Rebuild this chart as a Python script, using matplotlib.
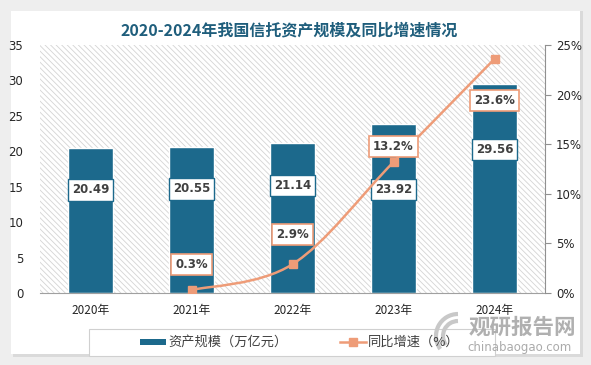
import matplotlib
matplotlib.use("Agg")
import matplotlib.pyplot as plt
from matplotlib.path import Path
from matplotlib.patches import PathPatch, Rectangle, Arc
import numpy as np

plt.rcParams['font.family'] = ['Noto Sans CJK SC', 'DejaVu Sans']
plt.rcParams['hatch.linewidth'] = 0.6
plt.rcParams['hatch.color'] = '#D4D4D4'

years = ['2020年', '2021年', '2022年', '2023年', '2024年']
assets = [20.49, 20.55, 21.14, 23.92, 29.56]
growth_years = ['2021年', '2022年', '2023年', '2024年']
growth = [0.3, 2.9, 13.2, 23.6]
left_ticks = [0, 5, 10, 15, 20, 25, 30, 35]
right_ticks = [0, 5, 10, 15, 20, 25]

BAR = '#1C698C'
LINE = '#EE9C78'
TXT = '#404040'
TICK = '#262626'

W, H = 591, 365
fig = plt.figure(figsize=(W / 100, H / 100), dpi=100)
fig.patch.set_facecolor('#EEEEEE')
# white panel with soft shadow
fig.patches.append(Rectangle((13 / W, 8 / H), 570 / W, 346 / H, transform=fig.transFigure,
                             facecolor='#DADADA', edgecolor='none', zorder=-2))
fig.patches.append(Rectangle((11 / W, 11 / H), 569 / W, 343 / H, transform=fig.transFigure,
                             facecolor='white', edgecolor='none', zorder=-1))

ax = fig.add_axes([40 / W, (H - 293) / H, 505 / W, 248 / H])
ax.set_facecolor('none')
x = np.arange(len(years))
ax.set_xlim(-0.5, len(years) - 0.5)
ax.set_ylim(0, 35)

# hatched background
ax.add_patch(Rectangle((0, 0), 1, 1, transform=ax.transAxes, facecolor='white',
                       edgecolor='#D4D4D4', hatch='\\\\\\\\\\\\', linewidth=0, zorder=0))

ax.bar(x, assets, width=0.44, color=BAR, edgecolor='white', linewidth=1.0, zorder=2)
ax.set_xticks(x)
ax.set_xticklabels(years, fontsize=8.5, color=TICK)
ax.set_yticks(left_ticks)
ax.set_yticklabels([str(v) for v in left_ticks], fontsize=8.5, color=TICK,
                   family=['DejaVu Sans'])
ax.tick_params(axis='y', length=0, pad=12)
ax.tick_params(axis='x', length=0, pad=8)
for s in ['top', 'right', 'left']:
    ax.spines[s].set_visible(False)
ax.spines['bottom'].set_color('#A0A0A0')

bar_label_frac = [0.71, 0.715, 0.72, 0.61, 0.685]
for xi, v, f in zip(x, assets, bar_label_frac):
    ax.text(xi, v * f, f'{v:.2f}', ha='center', va='center', fontsize=8.5, color=TXT,
            fontweight='bold', family=['DejaVu Sans'], zorder=5,
            bbox=dict(boxstyle='square,pad=0.35', fc='white', ec=BAR, lw=1))

ax2 = ax.twinx()
ax2.set_ylim(0, 25)
ax2.set_yticks(right_ticks)
ax2.set_yticklabels([f'{v}%' for v in right_ticks], fontsize=8.5, color=TICK,
                    family=['DejaVu Sans'])
ax2.tick_params(axis='y', length=4, color='#909090', pad=4)
for s in ['top', 'left', 'bottom']:
    ax2.spines[s].set_visible(False)
ax2.spines['right'].set_color('#909090')

gx = np.array([years.index(g) for g in growth_years], dtype=float)
gy = np.array(growth, dtype=float)
pts = np.column_stack([gx, gy])
# smooth curve (Catmull-Rom as bezier) through the data points
verts = [tuple(pts[0])]
codes = [Path.MOVETO]
n = len(pts)
for i in range(n - 1):
    p0 = pts[i - 1] if i > 0 else pts[i]
    p1 = pts[i]
    p2 = pts[i + 1]
    p3 = pts[i + 2] if i + 2 < n else pts[i + 1]
    c1 = p1 + (p2 - p0) / 6
    c2 = p2 - (p3 - p1) / 6
    verts += [tuple(c1), tuple(c2), tuple(p2)]
    codes += [Path.CURVE4] * 3
ax2.add_patch(PathPatch(Path(verts, codes), facecolor='none', edgecolor=LINE, lw=1.8, zorder=3))
ax2.plot(gx, gy, linestyle='none', marker='s', markersize=6, color=LINE, zorder=4)

pct_offsets = [(0, 2.6), (0, 3.0), (0, 1.6), (0, -4.2)]
for xi, v, (dx, dy) in zip(gx, gy, pct_offsets):
    ax2.text(xi + dx, v + dy, f'{v:.1f}%', ha='center', va='center', fontsize=8.5, color=TXT,
             fontweight='bold', family=['DejaVu Sans'], zorder=6,
             bbox=dict(boxstyle='square,pad=0.35', fc='white', ec=LINE, lw=1.2))

fig.text(0.49, (H - 30) / H, '2020-2024年我国信托资产规模及同比增速情况', ha='center', va='center',
         fontsize=11.5, fontweight='bold', color='#1F5E7C')

# legend
fig.patches.append(Rectangle((89 / W, (H - 356) / H), 406 / W, 27 / H, transform=fig.transFigure,
                             facecolor='white', edgecolor='#D0D0D0', lw=0.8, zorder=1))
ly = (H - 342) / H
fig.patches.append(Rectangle((140 / W, ly - 3 / H), 26 / W, 6 / H, transform=fig.transFigure,
                             facecolor=BAR, edgecolor='none', zorder=2))
fig.text(168 / W, ly, '资产规模（万亿元）', fontsize=9.5, color=TXT, va='center', ha='left')
fig.lines.append(plt.Line2D([340 / W, 366 / W], [ly, ly], transform=fig.transFigure,
                            color=LINE, lw=1.8))
fig.lines.append(plt.Line2D([353 / W], [ly], transform=fig.transFigure, color=LINE,
                            marker='s', markersize=6))
fig.text(368 / W, ly, '同比增速（%）', fontsize=9.5, color=TXT, va='center', ha='left')

# watermark
for r, lw in [(22, 3.0), (15, 3.0)]:
    fig.patches.append(Arc((458 / W, (H - 336) / H), 2 * r / W, 2 * r / H, theta1=90, theta2=230,
                           transform=fig.transFigure, color='#C8C8C8', lw=lw, zorder=3))
fig.text(522 / W, (H - 327) / H, '观研报告网', fontsize=15.5, fontweight='bold', color='#A8A8A8',
         ha='center', va='center', alpha=0.9, zorder=4)
fig.text(520 / W, (H - 347) / H, 'chinabaogao.com', fontsize=8.5, color='#ABABAB',
         ha='center', va='center', family=['DejaVu Sans'], zorder=4)

fig.savefig('out.png', dpi=100, facecolor=fig.get_facecolor())
